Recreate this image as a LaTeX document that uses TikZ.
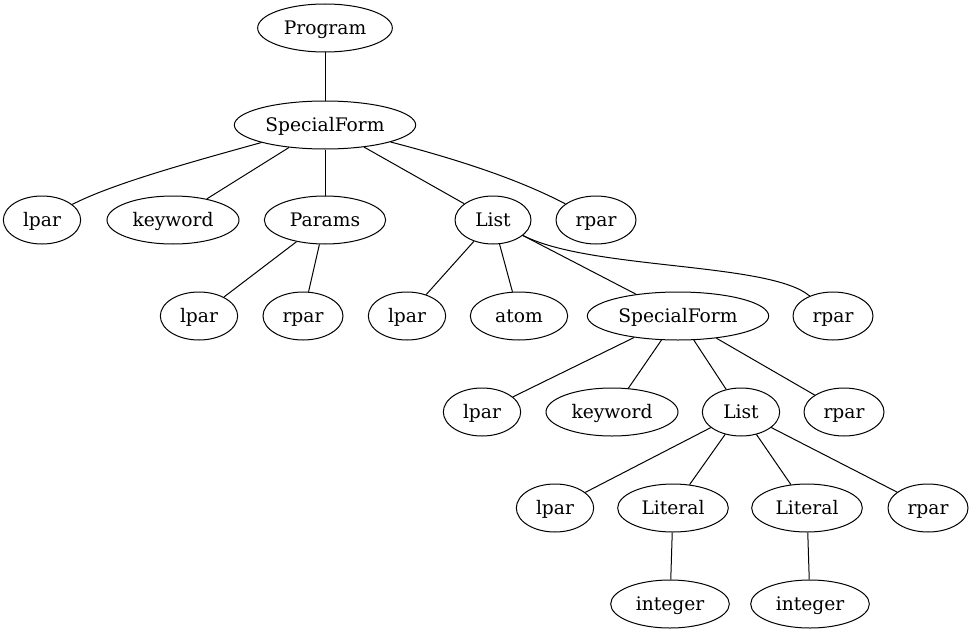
\documentclass[tikz,border=0pt]{standalone}
\usepackage{fontspec}
\setmainfont{DejaVu Serif}
\usetikzlibrary{shapes.geometric}
\begin{document}
\begin{tikzpicture}[x=0.75pt,y=-0.75pt,
  nd/.style={ellipse,draw,line width=0.75pt,inner sep=0pt,minimum height=36pt,text height=12pt,text depth=2pt,font=\fontsize{14}{16}\selectfont},
  edge/.style={line width=0.75pt}]
\useasboundingbox (0,0) rectangle (974,635);
\node[nd,minimum width=101pt] (prog) at (325,28) {Program};
\node[nd,minimum width=136pt] (sf1) at (325,125) {SpecialForm};
\node[nd,minimum width=58pt] (lpar1) at (42,220) {lpar};
\node[nd,minimum width=99pt] (kw1) at (173,220) {keyword};
\node[nd,minimum width=91pt] (params) at (325,220) {Params};
\node[nd,minimum width=57pt] (list1) at (493,220) {List};
\node[nd,minimum width=60pt] (rpar1) at (596,220) {rpar};
\node[nd,minimum width=58pt] (lpar2) at (199,316) {lpar};
\node[nd,minimum width=60pt] (rpar2) at (303,316) {rpar};
\node[nd,minimum width=58pt] (lpar3) at (407,316) {lpar};
\node[nd,minimum width=73pt] (atom) at (519,316) {atom};
\node[nd,minimum width=136pt] (sf2) at (678,316) {SpecialForm};
\node[nd,minimum width=60pt] (rpar3) at (833,316) {rpar};
\node[nd,minimum width=58pt] (lpar4) at (482,412) {lpar};
\node[nd,minimum width=99pt] (kw2) at (612,412) {keyword};
\node[nd,minimum width=58pt] (list2) at (741,412) {List};
\node[nd,minimum width=60pt] (rpar4) at (844,412) {rpar};
\node[nd,minimum width=58pt] (lpar5) at (555,508) {lpar};
\node[nd,minimum width=83pt] (lit1) at (673,508) {Literal};
\node[nd,minimum width=83pt] (lit2) at (807,508) {Literal};
\node[nd,minimum width=60pt] (rpar5) at (928,508) {rpar};
\node[nd,minimum width=89pt] (int1) at (670,604) {integer};
\node[nd,minimum width=89pt] (int2) at (810,604) {integer};
\draw[edge] (prog) -- (sf1);
\draw[edge] (sf1) .. controls (180,165) and (110,185) .. (lpar1);
\draw[edge] (sf1) -- (kw1);
\draw[edge] (sf1) -- (params);
\draw[edge] (sf1) -- (list1);
\draw[edge] (sf1) .. controls (460,160) and (520,180) .. (rpar1);
\draw[edge] (params) -- (lpar2);
\draw[edge] (params) -- (rpar2);
\draw[edge] (list1) -- (lpar3);
\draw[edge] (list1) -- (atom);
\draw[edge] (list1) -- (sf2);
\draw[edge] (list1) .. controls (590,270) and (770,262) .. (rpar3);
\draw[edge] (sf2) -- (lpar4);
\draw[edge] (sf2) -- (kw2);
\draw[edge] (sf2) -- (list2);
\draw[edge] (sf2) -- (rpar4);
\draw[edge] (list2) -- (lpar5);
\draw[edge] (list2) -- (lit1);
\draw[edge] (list2) -- (lit2);
\draw[edge] (list2) -- (rpar5);
\draw[edge] (lit1) -- (int1);
\draw[edge] (lit2) -- (int2);
\end{tikzpicture}
\end{document}
